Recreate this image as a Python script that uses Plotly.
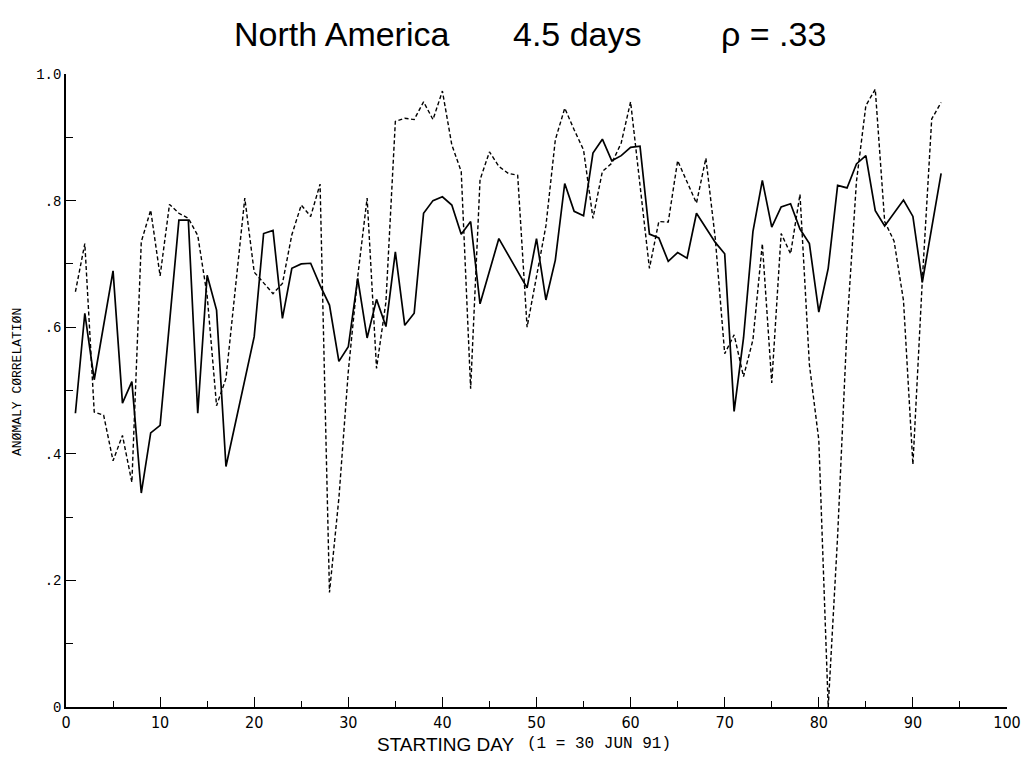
import plotly.graph_objects as go

# ---- data ----
solid_days = [1, 2, 3, 5, 6, 7, 8, 9, 10, 12, 13, 14, 15, 16, 17,
              20, 21, 22, 23, 24, 25, 26, 27, 28, 29, 30, 31, 32, 33, 34, 35, 36, 37, 38, 39, 40, 41, 42, 43, 44,
              46, 49, 50, 51, 52, 53, 54, 55, 56, 57, 58, 59, 60, 61, 62, 63, 64, 65, 66, 67,
              69, 70, 71, 72, 73, 74, 75, 76, 77, 78, 79, 80, 81, 82, 83, 84, 85, 86, 87,
              89, 90, 91, 93]
solid_vals = [0.464, 0.622, 0.517, 0.689, 0.480, 0.514, 0.338, 0.433, 0.445, 0.769, 0.769, 0.464, 0.682, 0.627, 0.380,
              0.585, 0.748, 0.753, 0.614, 0.693, 0.700, 0.701, 0.666, 0.635, 0.546, 0.569, 0.677, 0.583, 0.644, 0.601,
              0.719, 0.603, 0.622, 0.780, 0.800, 0.806, 0.793, 0.747, 0.767, 0.637,
              0.740, 0.662, 0.740, 0.643, 0.706, 0.827, 0.783, 0.776, 0.875, 0.897, 0.863, 0.871, 0.884, 0.886,
              0.747, 0.741, 0.704, 0.718, 0.709, 0.780,
              0.734, 0.716, 0.467, 0.583, 0.751, 0.832, 0.758, 0.790, 0.795, 0.755, 0.732, 0.624, 0.693, 0.824,
              0.820, 0.858, 0.871, 0.784, 0.760,
              0.801, 0.775, 0.671, 0.843]

dash_days = [1, 2, 3, 4, 5, 6, 7, 8, 9, 10, 11, 12, 13, 14, 15, 16, 17,
             19, 20,
             22, 23, 24, 25, 26, 27, 28, 29, 30, 31, 32, 33, 34, 35, 36, 37, 38, 39, 40, 41, 42, 43, 44, 45, 46,
             47, 48, 49, 50, 51, 52, 53, 54, 55, 56, 57, 58, 59, 60,
             62, 63, 64, 65, 66, 67, 68, 69, 70, 71, 72, 73, 74, 75, 76, 77, 78, 79, 80, 81, 82, 83, 84, 85,
             86, 87, 88, 89, 90, 91, 92, 93]
dash_vals = [0.656, 0.732, 0.466, 0.461, 0.389, 0.429, 0.355, 0.735, 0.785, 0.681, 0.794, 0.780, 0.772, 0.745,
             0.650, 0.476, 0.519,
             0.804, 0.687,
             0.653, 0.669, 0.746, 0.793, 0.775, 0.826, 0.181, 0.33, 0.53, 0.68, 0.804, 0.535, 0.64, 0.925, 0.930,
             0.928, 0.956, 0.928, 0.973, 0.888, 0.846, 0.503, 0.833, 0.877, 0.854,
             0.843, 0.840, 0.600, 0.68, 0.76, 0.896, 0.946, 0.912, 0.880, 0.772, 0.846, 0.859, 0.891, 0.956,
             0.693, 0.767, 0.766, 0.863, 0.830, 0.796, 0.867, 0.74, 0.558, 0.588, 0.522, 0.580, 0.732, 0.512,
             0.748, 0.716, 0.810, 0.541, 0.422, 0.0, 0.27, 0.60, 0.83, 0.95,
             0.976, 0.767, 0.736, 0.642, 0.383, 0.674, 0.929, 0.955]

x_ticks = [0, 10, 20, 30, 40, 50, 60, 70, 80, 90, 100]
x_tick_text = ["0", "10", "20", "30", "40", "50", "60", "70", "80", "90", "100"]
y_ticks = [0, 0.2, 0.4, 0.6, 0.8, 1.0]
y_tick_text = ["0", ".2", ".4", ".6", ".8", "1.0"]

title_parts = ["North America", "4.5 days", "\u03c1 = .33"]

COND = "DejaVu Sans Condensed, Liberation Sans Narrow, Roboto Condensed, Liberation Sans, Arial, sans-serif"

# plot area in window pixels: x 66..1007, y 74..707 (page body margin removed below)
PX0, PX1, PY0, PY1 = 66, 1007, 74, 707
W, H = 1023, 759


def px(x):
    return (x - PX0) / (PX1 - PX0)


def py(y):
    return (PY1 - y) / (PY1 - PY0)


fig = go.Figure()
fig.add_trace(go.Scatter(x=dash_days, y=dash_vals, mode="lines",
                         line=dict(color="black", width=1.4, dash="4px,2.5px"),
                         showlegend=False, hoverinfo="skip"))
fig.add_trace(go.Scatter(x=solid_days, y=solid_vals, mode="lines",
                         line=dict(color="black", width=1.7),
                         showlegend=False, hoverinfo="skip"))

fig.update_layout(
    width=W, height=H,
    margin=dict(l=PX0, r=W - PX1, t=PY0, b=H - PY1, autoexpand=False),
    paper_bgcolor="white", plot_bgcolor="white",
    showlegend=False,
)
fig.update_xaxes(
    range=[0, 100], showgrid=False, zeroline=False, automargin=False,
    showline=True, linecolor="black", linewidth=1.5,
    tickmode="array", tickvals=x_ticks, ticktext=x_tick_text,
    ticks="inside", ticklen=10, tickwidth=1.3, tickcolor="black",
    ticklabeloverflow="allow",
    minor=dict(dtick=5, ticks="inside", ticklen=6, tickwidth=1.2, tickcolor="black"),
    tickfont=dict(family=COND, size=16, color="black"),
)
fig.update_yaxes(
    range=[0, 1.0], showgrid=False, zeroline=False, automargin=False,
    showline=True, linecolor="black", linewidth=1.5,
    tickmode="array", tickvals=y_ticks, ticktext=y_tick_text,
    ticks="inside", ticklen=10, tickwidth=1.3, tickcolor="black",
    ticklabeloverflow="allow",
    minor=dict(dtick=0.1, ticks="inside", ticklen=7, tickwidth=1.2, tickcolor="black"),
    tickfont=dict(family="Liberation Mono", size=14, color="black"),
)

# title in three pieces
for txt, xc in zip(title_parts, [341, 577, 773]):
    fig.add_annotation(text=txt, xref="paper", yref="paper",
                       x=px(xc), y=py(34),
                       xanchor="center", yanchor="middle", showarrow=False,
                       font=dict(family="Liberation Sans", size=34, color="black"))

# axis titles
fig.add_annotation(text="AN\u00d8MALY C\u00d8RRELATI\u00d8N", xref="paper", yref="paper",
                   x=px(17), y=py(382), textangle=-90,
                   xanchor="center", yanchor="middle", showarrow=False,
                   font=dict(family="Liberation Mono", size=13, color="black"))
fig.add_annotation(text="STARTING DAY", xref="paper", yref="paper",
                   x=px(446), y=py(744),
                   xanchor="center", yanchor="middle", showarrow=False,
                   font=dict(family="Liberation Sans", size=19, color="black"))
fig.add_annotation(text="(1 = 30 JUN 91)", xref="paper", yref="paper",
                   x=px(599), y=py(744),
                   xanchor="center", yanchor="middle", showarrow=False,
                   font=dict(family="Liberation Mono", size=16, color="black"))

fig.write_html("out.html",
               config={"displayModeBar": False},
               post_script="document.body.style.margin='0';document.body.style.overflow='hidden';")
